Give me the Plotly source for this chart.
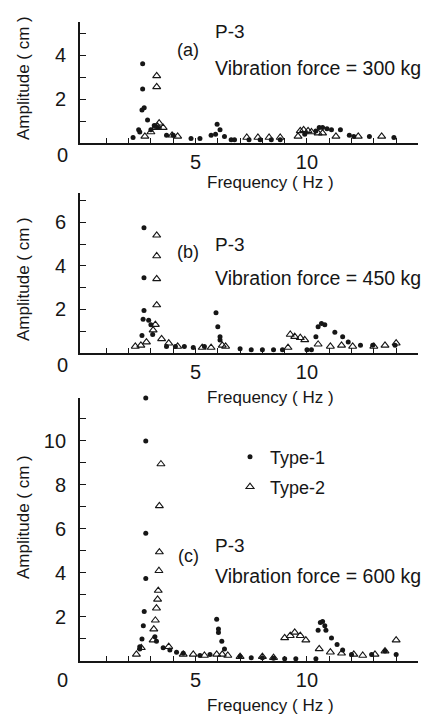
import plotly.graph_objects as go

W, H = 430, 718

# ---------------- data ----------------
# Panel (a): vibration force = 300 kg
a_t1_f = [2.2, 2.45, 2.5, 2.6, 2.63, 2.63, 2.7, 2.85, 3.0, 3.15, 3.3, 3.7, 4.0, 4.8, 5.2, 5.7, 5.9,
          5.97, 6.1, 6.3, 6.6, 6.75, 7.4, 7.9, 8.4, 8.8, 9.9, 10.4, 10.55, 10.7, 10.9, 11.1, 11.5,
          11.9, 12.1, 12.8, 13.9]
a_t1_a = [0.25, 0.6, 0.5, 1.5, 3.6, 2.45, 1.6, 1.05, 0.6, 0.8, 0.7, 0.35, 0.35, 0.2, 0.2, 0.35, 0.4,
          0.85, 0.6, 0.3, 0.15, 0.15, 0.15, 0.15, 0.15, 0.15, 0.4, 0.55, 0.7, 0.7, 0.65, 0.6, 0.6,
          0.35, 0.3, 0.3, 0.25]
a_t2_f = [2.73, 3.0, 3.2, 3.26, 3.26, 3.3, 3.37, 3.55, 3.95, 4.2, 7.3, 7.8, 8.3, 8.8, 9.6, 9.7,
          9.85, 10.05, 10.2, 10.5, 10.7, 11.3, 12.3, 13.35]
a_t2_a = [0.3, 0.5, 0.7, 3.05, 2.55, 0.75, 0.9, 0.7, 0.35, 0.3, 0.25, 0.25, 0.25, 0.25, 0.3, 0.55,
          0.6, 0.55, 0.5, 0.45, 0.45, 0.3, 0.3, 0.3]

# Panel (b): vibration force = 450 kg
b_t1_f = [2.6, 2.65, 2.69, 2.69, 2.69, 2.9, 3.0, 3.08, 3.7, 4.1, 4.5, 4.9, 5.4, 5.92, 6.0, 6.1, 6.1,
          7.0, 7.5, 8.0, 8.5, 8.9, 10.0, 10.2, 10.4, 10.5, 10.65, 10.8, 11.25, 11.6, 11.85, 12.4,
          12.95, 13.95]
b_t1_a = [0.8, 1.55, 5.75, 3.45, 1.95, 1.5, 1.3, 0.85, 0.3, 0.3, 0.3, 0.25, 0.3, 1.85, 1.2, 0.75,
          0.6, 0.2, 0.15, 0.15, 0.15, 0.15, 0.15, 0.15, 0.75, 1.2, 1.35, 1.3, 0.95, 0.75, 0.5, 0.35,
          0.35, 0.35]
b_t2_f = [2.3, 2.55, 2.8, 3.1, 3.2, 3.26, 3.26, 3.26, 3.26, 3.48, 3.8, 4.2, 5.3, 5.7, 6.2, 6.35,
          9.15, 9.25, 9.45, 9.7, 9.9, 10.5, 11.05, 11.55, 12.05, 13.0, 13.5, 14.0]
b_t2_a = [0.3, 0.35, 0.5, 1.05, 1.3, 2.2, 3.4, 4.45, 5.4, 0.65, 0.45, 0.3, 0.25, 0.25, 0.35, 0.3,
          0.25, 0.85, 0.75, 0.7, 0.6, 0.4, 0.3, 0.35, 0.3, 0.3, 0.35, 0.45]

# Panel (c): vibration force = 600 kg
c_t1_f = [2.5, 2.5, 2.6, 2.66, 2.7, 2.77, 2.77, 2.77, 2.77, 3.18, 3.25, 3.55, 3.85, 4.15, 4.45,
          5.2, 5.65, 5.95, 6.03, 6.03, 6.18, 6.3, 7.0, 7.5, 8.0, 8.5, 9.0, 9.5, 10.4, 10.5, 10.6,
          10.7, 10.8, 10.85, 11.1, 11.35, 11.6, 12.0, 12.9, 13.5, 14.0]
c_t1_a = [0.65, 0.55, 1.0, 1.6, 2.25, 3.75, 5.8, 10.0, 11.95, 1.1, 0.9, 0.6, 0.5, 0.4, 0.35,
          0.25, 0.3, 1.9, 1.45, 1.3, 0.9, 0.55, 0.2, 0.15, 0.15, 0.12, 0.1, 0.1, 0.1, 1.4, 1.75,
          1.8, 1.6, 1.4, 1.05, 0.75, 0.5, 0.3, 0.3, 0.45, 0.3]
c_t2_f = [2.35, 2.57, 3.1, 3.13, 3.2, 3.25, 3.3, 3.33, 3.36, 3.38, 3.38, 3.45, 3.8, 4.45, 4.9,
          5.4, 5.95, 6.2, 6.45, 7.0, 8.0, 8.5, 9.0, 9.25, 9.45, 9.7, 9.95, 10.55, 11.05, 11.55,
          12.1, 12.5, 13.05, 13.5, 14.0]
c_t2_a = [0.3, 0.6, 0.95, 1.45, 1.85, 2.4, 2.8, 3.2, 4.1, 4.95, 7.05, 8.95, 0.65, 0.3, 0.3,
          0.25, 0.3, 0.3, 0.25, 0.2, 0.2, 0.15, 1.05, 1.15, 1.3, 1.15, 0.95, 0.55, 0.4, 0.35,
          0.3, 0.25, 0.3, 0.45, 0.95]

panel_labels = ["(a)", "(b)", "(c)"]
forces = ["300 kg", "450 kg", "600 kg"]
series_names = ["Type-1", "Type-2"]
x_tick_labels = ["5", "10"]
y_max = [5.5, 7.34, 11.95]
y_top_tick = [5, 7, 11]

# ---------------- layout helpers ----------------
def px(x):
    return x / W

def py(y):
    return 1 - y / H

FONT = "Liberation Sans"
INK = "#161616"

# plot areas in pixels: (top, bottom)
panels = [(22, 143), (193, 353), (398, 661)]
x_left, x_right = 80, 418

fig = go.Figure()

data = [
    (a_t1_f, a_t1_a, a_t2_f, a_t2_a),
    (b_t1_f, b_t1_a, b_t2_f, b_t2_a),
    (c_t1_f, c_t1_a, c_t2_f, c_t2_a),
]

for i, (f1, a1, f2, a2) in enumerate(data):
    xa = "x" if i == 0 else f"x{i+1}"
    ya = "y" if i == 0 else f"y{i+1}"
    fig.add_trace(go.Scatter(
        x=f1, y=a1, mode="markers", xaxis=xa, yaxis=ya, name=series_names[0],
        marker=dict(symbol="circle", size=5, color=INK),
        showlegend=(i == 2), legend="legend", cliponaxis=False))
    fig.add_trace(go.Scatter(
        x=f2, y=a2, mode="markers", xaxis=xa, yaxis=ya, name=series_names[1],
        marker=dict(symbol="triangle-up-open", size=7, color=INK, line=dict(width=1.1)),
        showlegend=(i == 2), legend="legend2", cliponaxis=False))

xticks = list(range(1, 15))
xtext = [str(v) if str(v) in x_tick_labels else "" for v in xticks]

layout = dict(
    width=W, height=H, autosize=False, margin=dict(l=0, r=0, t=0, b=0),
    paper_bgcolor="white", plot_bgcolor="white",
    font=dict(family=FONT, color=INK),
)

for i, (top, bot) in enumerate(panels):
    sx = "xaxis" if i == 0 else f"xaxis{i+1}"
    sy = "yaxis" if i == 0 else f"yaxis{i+1}"
    ya = "y" if i == 0 else f"y{i+1}"
    xa = "x" if i == 0 else f"x{i+1}"
    layout[sx] = dict(
        domain=[px(x_left), px(x_right)], anchor=ya, range=[-0.18, 14.98],
        showline=True, linecolor=INK, linewidth=1.8, showgrid=False, zeroline=False,
        ticks="inside", ticklen=5, tickwidth=1, tickcolor=INK,
        tickmode="array", tickvals=xticks, ticktext=xtext,
        tickfont=dict(size=20, family=FONT, color=INK), fixedrange=True)
    yticks = list(range(1, y_top_tick[i] + 1))
    ytext = [str(v) if v % 2 == 0 else "" for v in yticks]
    layout[sy] = dict(
        domain=[py(bot), py(top)], anchor=xa, range=[0, y_max[i]],
        showline=True, linecolor=INK, linewidth=1.8, showgrid=False, zeroline=False,
        ticks="inside", ticklen=6, tickwidth=1, tickcolor=INK,
        tickmode="array", tickvals=yticks, ticktext=ytext, ticklabelstandoff=8,
        tickfont=dict(size=20, family=FONT, color=INK), fixedrange=True)

fig.update_layout(**layout)

ann = []
def text(x, y, s, size, xanchor="left", textangle=0):
    ann.append(dict(x=px(x), y=py(y), xref="paper", yref="paper", text=s, showarrow=False,
                    xanchor=xanchor, yanchor="middle", textangle=textangle,
                    font=dict(size=size, family=FONT, color=INK)))

label_pos = [
    # (P-3 y, (x) y, force y, zero y, freq label y, amp label y)
    (32, 50, 68, 155, 183, 78),
    (245, 252, 278, 365, 397, 279),
    (545, 556, 576, 680, 705, 517),
]
for i, (yp, yl, yf, y0, yfreq, yamp) in enumerate(label_pos):
    text(213, yp, "P-3", 19)
    text(188, yl, panel_labels[i], 18, xanchor="center")
    text(213, yf, "Vibration force = " + forces[i], 19.5)
    text(62, y0, "0", 20, xanchor="center")
    text(270, yfreq, "Frequency ( Hz )", 17, xanchor="center")
    text(23, yamp, "Amplitude ( cm )", 17, xanchor="center", textangle=-90)

fig.update_layout(
    annotations=ann,
    legend=dict(x=px(230), y=py(457), xanchor="left", yanchor="middle",
                bgcolor="rgba(0,0,0,0)", font=dict(size=18, family=FONT, color=INK)),
    legend2=dict(x=px(230), y=py(487), xanchor="left", yanchor="middle",
                 bgcolor="rgba(0,0,0,0)", font=dict(size=18, family=FONT, color=INK)),
)

fig.write_html(
    "out.html",
    config={"responsive": False, "displayModeBar": False},
    post_script="document.body.style.margin='0';document.body.style.overflow='hidden';",
)
